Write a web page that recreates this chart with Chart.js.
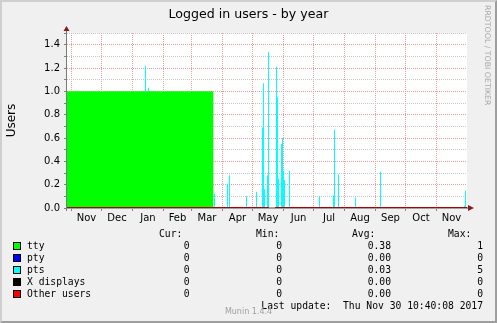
<!DOCTYPE html>
<html>
<head>
<meta charset="utf-8">
<script src="https://cdn.jsdelivr.net/npm/chart.js@4/dist/chart.umd.min.js"></script>
<style>
  html, body { margin: 0; padding: 0; background: #f0f0f0; }
  #graph { position: relative; width: 497px; height: 323px; background: #f0f0f0; overflow: hidden; font-family: 'DejaVu Sans', sans-serif; }
  #graph canvas { position: absolute; left: 0; top: 0; }
  .frame { position: absolute; left: 0; top: 0; width: 497px; height: 323px; box-sizing: border-box; border-style: solid; border-width: 2px; border-color: #cfcfcf #9e9e9e #9e9e9e #cfcfcf; pointer-events: none; }
  .title { position: absolute; left: 0; width: 497px; top: 6px; text-align: center; font-size: 12.6px; line-height: 15px; color: #000; }
  .rrd { position: absolute; left: 483px; top: 5px; writing-mode: vertical-rl; font-size: 7.8px; line-height: 9px; color: #a8a8a8; white-space: nowrap; }
  .lg { position: absolute; font-family: 'DejaVu Sans Mono', monospace; font-size: 9.7px; line-height: 12px; white-space: pre; color: #000; }
  .sw { position: absolute; width: 6px; height: 6px; border: 1px solid #000; }
  .munin { position: absolute; left: 0; width: 497px; text-align: center; top: 307px; font-size: 8px; line-height: 10px; color: #a0a0a0; }
</style>
</head>
<body>
<div id="graph">
  <canvas id="chart" width="497" height="323"></canvas>
  <div class="title">Logged in users - by year</div>
  <div class="rrd">RRDTOOL / TOBI OETIKER</div>
  <div id="legend"></div>
  <div class="munin">Munin 1.4.4</div>
  <div class="frame"></div>
</div>
<script>
// x values are days counted from 1 Nov 2016
const monthLabels = ['Nov', 'Dec', 'Jan', 'Feb', 'Mar', 'Apr', 'May', 'Jun', 'Jul', 'Aug', 'Sep', 'Oct', 'Nov'];
const monthStarts = ['2016-11-01', '2016-12-01', '2017-01-01', '2017-02-01', '2017-03-01', '2017-04-01', '2017-05-01',
  '2017-06-01', '2017-07-01', '2017-08-01', '2017-09-01', '2017-10-01', '2017-11-01', '2017-12-01'];
const xMin = -4.5;
const xMax = 395.5;

const ttyDays = [-4.5, 141.8, 141.8, 395.5];
const ttyValues = [1, 1, 0, 0];

const ptsDays = [74, 77, 143, 156, 158, 175, 185, 191, 192, 193, 196, 197, 205, 206, 207, 210, 211, 212, 213, 218,
  248, 262, 263, 267, 284, 309, 393, 394];
const ptsValues = [0.22, 0.03, 0.12, 0.21, 0.28, 0.10, 0.14, 0.69, 1.07, 0.16, 0.28, 1.34, 1.21, 0.95, 0.25, 0.55,
  0.60, 0.32, 0.24, 0.32, 0.10, 0.11, 0.67, 0.29, 0.09, 0.31, 0.02, 0.15];

const otherDays = [-4.5, 197.5, 200, 203.5, 395.5];
const otherValues = [0, 0, null, 0, 0];

const legendNames = ['tty', 'pty', 'pts', 'X displays', 'Other users'];
const legendColors = ['#00ff00', '#0000ff', '#00ffff', '#000000', '#ff0000'];
const curValues = [0, 0, 0, 0, 0];
const minValues = [0, 0, 0, 0, 0];
const avgValues = [0.38, 0.00, 0.03, 0.00, 0.00];
const maxValues = [1, 0, 5, 0, 0];
const lastUpdate = 'Thu Nov 30 10:40:08 2017';

const dayMs = 86400000;
const origin = Date.parse(monthStarts[0] + 'T00:00:00Z');
const startDays = monthStarts.map(s => Math.round((Date.parse(s + 'T00:00:00Z') - origin) / dayMs));

// gridlines at month starts, labels in the middle of each month
const gridDays = startDays.slice(0, monthLabels.length);
const midDays = monthLabels.map((m, i) => (startDays[i] + startDays[i + 1]) / 2);
const xTickValues = [...gridDays, ...midDays].sort((a, b) => a - b);

function isMonthStart(v) {
  return gridDays.some(d => Math.abs(d - v) < 1e-6);
}
function monthLabelAt(v) {
  const i = midDays.findIndex(d => Math.abs(d - v) < 1e-6);
  return i >= 0 ? monthLabels[i] : '';
}
function tickValue(c) {
  if (c.tick) return c.tick.value;
  const t = c.scale && c.scale.ticks ? c.scale.ticks[c.index] : null;
  return t ? t.value : NaN;
}

function ttyAt(day) {
  let v = 0;
  for (let i = 0; i < ttyDays.length; i++) {
    if (ttyDays[i] <= day) v = ttyValues[i];
  }
  return v;
}

const MAJOR = '#e89c9c';
const MINOR = '#c8c8c8';

const plotArea = {
  id: 'plotArea',
  beforeDraw(chart) {
    const { ctx, chartArea: a } = chart;
    ctx.save();
    ctx.fillStyle = '#ffffff';
    ctx.fillRect(a.left, a.top, a.right - a.left, a.bottom - a.top);
    ctx.restore();
  },
  beforeDatasetsDraw(chart) {
    const { ctx, chartArea: a } = chart;
    ctx.save();
    ctx.strokeStyle = '#a0a0a0';
    ctx.lineWidth = 2;
    ctx.beginPath();
    ctx.moveTo(a.left, a.bottom);
    ctx.lineTo(a.right + 2, a.bottom);
    ctx.stroke();
    ctx.restore();
  },
  afterDraw(chart) {
    const { ctx, chartArea: a } = chart;
    ctx.save();
    ctx.strokeStyle = '#7a7a7a';
    ctx.lineWidth = 1;
    ctx.beginPath();
    ctx.moveTo(a.left - 0.5, a.bottom + 3);
    ctx.lineTo(a.left - 0.5, a.top - 2);
    ctx.stroke();
    ctx.fillStyle = '#8b1a1a';
    ctx.beginPath();
    ctx.moveTo(a.left - 3.5, a.top - 2);
    ctx.lineTo(a.left + 2.5, a.top - 2);
    ctx.lineTo(a.left - 0.5, a.top - 7);
    ctx.closePath();
    ctx.fill();
    ctx.beginPath();
    ctx.moveTo(a.right + 1, a.bottom - 3);
    ctx.lineTo(a.right + 1, a.bottom + 3);
    ctx.lineTo(a.right + 7, a.bottom);
    ctx.closePath();
    ctx.fill();
    ctx.restore();
  }
};

Chart.defaults.font.family = "'DejaVu Sans', sans-serif";
Chart.defaults.color = '#000';

new Chart(document.getElementById('chart').getContext('2d'), {
  type: 'bar',
  data: {
    datasets: [
      {
        type: 'line',
        label: 'Other users',
        data: otherDays.map((d, i) => ({ x: d, y: otherValues[i] })),
        borderColor: '#b00000',
        borderWidth: 2,
        pointRadius: 0,
        spanGaps: false,
        fill: false
      },
      {
        type: 'bar',
        label: 'pts',
        data: ptsDays.map((d, i) => ({ x: d, y: [ttyAt(d), ttyAt(d) + ptsValues[i]] })),
        backgroundColor: '#00ffff',
        borderWidth: 0,
        barThickness: 1,
        inflateAmount: 0
      },
      {
        type: 'line',
        label: 'tty',
        data: ttyDays.map((d, i) => ({ x: d, y: ttyValues[i] })),
        borderColor: 'rgba(0,0,0,0)',
        borderWidth: 0,
        backgroundColor: '#00ff00',
        pointRadius: 0,
        fill: 'origin'
      }
    ]
  },
  options: {
    responsive: false,
    animation: false,
    events: [],
    layout: { padding: { top: 33, right: 30, left: 0, bottom: 0 } },
    plugins: { legend: { display: false }, tooltip: { enabled: false } },
    scales: {
      x: {
        type: 'linear',
        min: xMin,
        max: xMax,
        offset: false,
        afterBuildTicks: (scale) => { scale.ticks = xTickValues.map(v => ({ value: v })); },
        afterFit: (scale) => { scale.height = 115; },
        ticks: {
          autoSkip: false,
          maxRotation: 0,
          padding: 1,
          font: { size: 10 },
          callback: (v) => monthLabelAt(v)
        },
        grid: {
          offset: false,
          color: (c) => isMonthStart(tickValue(c)) ? MAJOR : 'rgba(0,0,0,0)',
          tickColor: (c) => isMonthStart(tickValue(c)) ? '#c07070' : 'rgba(0,0,0,0)',
          tickLength: 3,
          lineWidth: 1
        },
        border: { display: false, dash: [1, 1] }
      },
      y: {
        min: 0,
        max: 1.5,
        afterFit: (scale) => { scale.width = 67; },
        ticks: {
          stepSize: 0.1,
          autoSkip: false,
          padding: 4,
          font: { size: 10 },
          callback: (v) => Math.round(v * 10) % 2 === 0 ? v.toFixed(1) : ''
        },
        grid: {
          color: (c) => Math.round(tickValue(c) * 10) % 2 === 0 ? MAJOR : MINOR,
          tickColor: '#808080',
          tickLength: 3,
          lineWidth: 1
        },
        border: { display: false, dash: [1, 1] },
        title: { display: true, text: 'Users', font: { size: 12 }, color: '#000', padding: { top: 5, bottom: 0 } }
      }
    }
  },
  plugins: [plotArea]
});

// legend table below the plot
const legend = document.getElementById('legend');
function addText(text, x, y, alignRight) {
  const s = document.createElement('span');
  s.className = 'lg';
  s.textContent = text;
  s.style.top = (y - 6) + 'px';
  if (alignRight) s.style.right = (497 - x) + 'px';
  else s.style.left = x + 'px';
  legend.appendChild(s);
}
addText('Cur:', 159, 234, false);
addText('Min:', 256, 234, false);
addText('Avg:', 352, 234, false);
addText('Max:', 448, 234, false);
legendNames.forEach((name, i) => {
  const y = 246 + i * 12;
  const sw = document.createElement('div');
  sw.className = 'sw';
  sw.style.left = '13px';
  sw.style.top = (y - 4) + 'px';
  sw.style.background = legendColors[i];
  legend.appendChild(sw);
  addText(name, 27, y, false);
  addText(String(curValues[i]), 189.5, y, true);
  addText(String(minValues[i]), 282, y, true);
  addText(avgValues[i].toFixed(2), 391, y, true);
  addText(String(maxValues[i]), 483, y, true);
});
addText('Last update:  ' + lastUpdate, 483, 306, true);
</script>
</body>
</html>
